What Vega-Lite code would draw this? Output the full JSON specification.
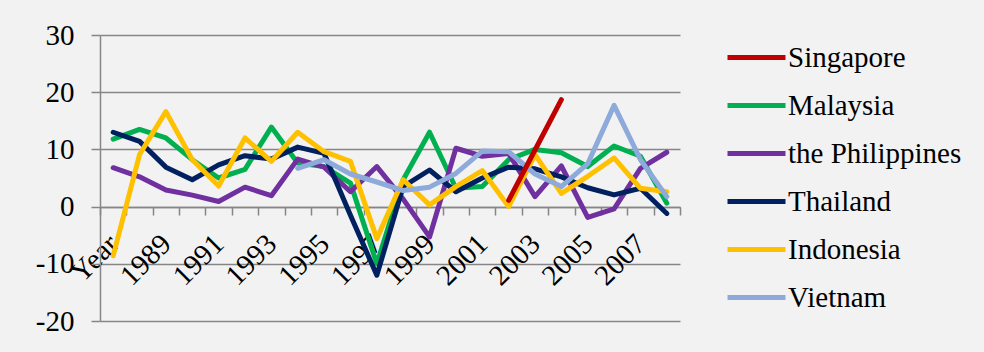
{
  "$schema": "https://vega.github.io/schema/vega-lite/v6.json",
  "autosize": {"type": "none"},
  "width": 580,
  "height": 286,
  "padding": {"left": 100, "top": 35, "right": 304, "bottom": 31},
  "background": "#f2f2f2",
  "config": {"view": {"stroke": null}, "font": "'Liberation Serif', 'Times New Roman', serif"},
  "datasets": {
    "wide": [
      {"year": "Year", "Malaysia": 11.8, "the Philippines": 6.8, "Thailand": 13.0, "Indonesia": -8.6},
      {"year": "1988", "Malaysia": 13.5, "the Philippines": 5.2, "Thailand": 11.4, "Indonesia": 9.1},
      {"year": "1989", "Malaysia": 12.0, "the Philippines": 2.9, "Thailand": 6.9, "Indonesia": 16.6},
      {"year": "1990", "Malaysia": 8.2, "the Philippines": 2.0, "Thailand": 4.7, "Indonesia": 8.2},
      {"year": "1991", "Malaysia": 5.0, "the Philippines": 0.9, "Thailand": 7.3, "Indonesia": 3.6},
      {"year": "1992", "Malaysia": 6.5, "the Philippines": 3.4, "Thailand": 8.9, "Indonesia": 12.0},
      {"year": "1993", "Malaysia": 13.9, "the Philippines": 1.9, "Thailand": 8.3, "Indonesia": 7.9},
      {"year": "1994", "Malaysia": 7.6, "the Philippines": 8.3, "Thailand": 10.4, "Indonesia": 13.0, "Vietnam": 6.7},
      {"year": "1995", "Malaysia": 7.0, "the Philippines": 6.9, "Thailand": 9.3, "Indonesia": 9.6, "Vietnam": 8.2},
      {"year": "1996", "Malaysia": 4.1, "the Philippines": 2.6, "Thailand": -1.5, "Indonesia": 7.9, "Vietnam": 5.7},
      {"year": "1997", "Malaysia": -10.0, "the Philippines": 7.0, "Thailand": -12.0, "Indonesia": -5.6, "Vietnam": 4.3},
      {"year": "1998", "Malaysia": 4.7, "the Philippines": 1.3, "Thailand": 3.5, "Indonesia": 4.7, "Vietnam": 2.8},
      {"year": "1999", "Malaysia": 13.0, "the Philippines": -5.3, "Thailand": 6.4, "Indonesia": 0.3, "Vietnam": 3.4},
      {"year": "2000", "Malaysia": 3.2, "the Philippines": 10.2, "Thailand": 2.6, "Indonesia": 3.5, "Vietnam": 5.8},
      {"year": "2001", "Malaysia": 3.5, "the Philippines": 8.8, "Thailand": 5.0, "Indonesia": 6.3, "Vietnam": 9.7},
      {"year": "2002", "Singapore": 1.1, "Malaysia": 8.2, "the Philippines": 9.3, "Thailand": 6.9, "Indonesia": 0.0, "Vietnam": 9.6},
      {"year": "2003", "Singapore": 9.9, "Malaysia": 10.0, "the Philippines": 1.75, "Thailand": 6.6, "Indonesia": 9.1, "Vietnam": 5.7},
      {"year": "2004", "Singapore": 18.7, "Malaysia": 9.4, "the Philippines": 7.1, "Thailand": 5.2, "Indonesia": 2.3, "Vietnam": 3.5},
      {"year": "2005", "Malaysia": 7.0, "the Philippines": -1.9, "Thailand": 3.3, "Indonesia": 5.3, "Vietnam": 7.5},
      {"year": "2006", "Malaysia": 10.6, "the Philippines": -0.4, "Thailand": 2.05, "Indonesia": 8.5, "Vietnam": 17.7},
      {"year": "2007", "Malaysia": 8.8, "the Philippines": 6.7, "Thailand": 3.2, "Indonesia": 3.2, "Vietnam": 8.2},
      {"year": "2008", "Malaysia": 0.6, "the Philippines": 9.5, "Thailand": -1.2, "Indonesia": 2.6, "Vietnam": 1.75}
    ]
  },
  "data": {"name": "wide"},
  "transform": [
    {"fold": ["Singapore", "Malaysia", "the Philippines", "Thailand", "Indonesia", "Vietnam"], "as": ["country", "value"]},
    {"filter": "isValid(datum.value)"}
  ],
  "mark": {"type": "line", "strokeWidth": 5, "strokeCap": "round", "strokeJoin": "round"},
  "encoding": {
    "x": {
      "field": "year",
      "type": "ordinal",
      "bandPosition": 0.5,
      "sort": ["Year", "1988", "1989", "1990", "1991", "1992", "1993", "1994", "1995", "1996", "1997", "1998", "1999", "2000", "2001", "2002", "2003", "2004", "2005", "2006", "2007", "2008"],
      "scale": {"type": "band", "paddingInner": 0, "paddingOuter": 0},
      "axis": {
        "title": null,
        "offset": -114,
        "domainColor": "#868686",
        "domainWidth": 1.5,
        "tickColor": "#868686",
        "tickWidth": 1.5,
        "tickSize": 8,
        "tickBand": "extent",
        "grid": false,
        "labelAngle": -45,
        "labelAlign": "right",
        "labelBaseline": "middle",
        "labelPadding": 24,
        "labelFont": "'Liberation Serif', 'Times New Roman', serif",
        "labelFontSize": 29,
        "labelColor": "#000000",
        "labelOverlap": false,
        "labelBound": false,
        "labelFlush": false,
        "labelExpr": "datum.value == 'Year' || toNumber(datum.value) % 2 == 1 ? datum.value : ''"
      }
    },
    "y": {
      "field": "value",
      "type": "quantitative",
      "scale": {"domain": [-20, 30], "nice": false, "zero": false},
      "axis": {
        "title": null,
        "values": [-20, -10, 0, 10, 20, 30],
        "grid": true,
        "gridColor": "#868686",
        "gridWidth": 1.5,
        "gridOpacity": 1,
        "domainColor": "#868686",
        "domainWidth": 1.5,
        "tickColor": "#868686",
        "tickWidth": 1.5,
        "tickSize": 9,
        "labelPadding": 17,
        "labelExpr": "'' + datum.value",
        "labelFont": "'Liberation Serif', 'Times New Roman', serif",
        "labelFontSize": 29,
        "labelColor": "#000000"
      }
    },
    "color": {
      "field": "country",
      "type": "nominal",
      "sort": ["Singapore", "Malaysia", "the Philippines", "Thailand", "Indonesia", "Vietnam"],
      "scale": {
        "domain": ["Singapore", "Malaysia", "the Philippines", "Thailand", "Indonesia", "Vietnam"],
        "range": ["#c00000", "#00b050", "#7030a0", "#002060", "#ffc000", "#8eaadb"]
      },
      "legend": {
        "title": null,
        "orient": "none",
        "legendX": 625,
        "legendY": -9,
        "symbolType": "stroke",
        "symbolSize": 3364,
        "symbolStrokeWidth": 5,
        "rowPadding": 1,
        "labelOffset": 0,
        "labelFont": "'Liberation Serif', 'Times New Roman', serif",
        "labelFontSize": 29,
        "labelColor": "#000000",
        "labelLimit": 400
      }
    }
  }
}
